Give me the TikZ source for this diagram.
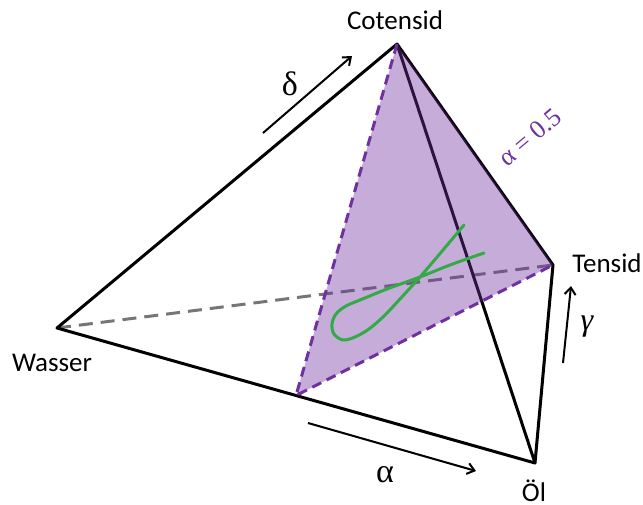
\documentclass[tikz,border=0pt]{standalone}
\usepackage{fontspec}
\setmainfont{Carlito}
\newfontfamily\greekfont{Liberation Serif}
\usetikzlibrary{arrows.meta,calc}
\definecolor{pplA}{RGB}{112,48,160}
\definecolor{grnA}{RGB}{50,170,70}
\definecolor{gryA}{RGB}{118,118,118}
\tikzset{
  edge/.style={line width=3pt, black},
  hidden/.style={line width=3pt, gryA, dash pattern=on 14pt off 8pt},
  pedge/.style={line width=3pt, pplA, dash pattern=on 10pt off 6pt},
  dirarrow/.style={line width=2pt, -{Straight Barb[length=7pt,width=11pt,line width=2pt]}},
  vlabel/.style={font=\fontsize{27}{31}\selectfont, inner sep=0pt, anchor=base},
  glabel/.style={font=\fontsize{34}{38}\selectfont\greekfont, inner sep=0pt}
}
\begin{document}
\begin{tikzpicture}[x=1pt,y=-1pt]
\useasboundingbox (0,0) rectangle (643,505);
\coordinate (C) at (397,44);
\coordinate (T) at (553,265);
\coordinate (W) at (57,328);
\coordinate (O) at (535,463);
\coordinate (P) at ($(W)!0.5!(O)$);
% hidden edge
\draw[hidden] (W) -- (T);
% solid edges
\draw[edge, line join=round] (W) -- (C) -- (T) -- (O) -- cycle;
\draw[edge] (C) -- (O);
% alpha = 0.5 plane
\fill[pplA, fill opacity=0.4] (C) -- (T) -- (P) -- cycle;
\draw[pedge] (C) -- (P) -- (T);
% green curve
\draw[grnA, line width=3pt, line cap=round] plot[smooth, tension=0.55] coordinates {
  (484,253) (450,265) (420,277) (387,289) (365,298) (346,306) (336,314) (332,324)
  (334,334) (343,340) (355,337) (369,329) (384,316) (400,299) (420,277) (443,250) (464,225)};
% labels
\node[vlabel] (lC) at (395,30) {Cotensid};
\node[vlabel] (lT) at (607,273) {Tensid};
\node[vlabel] (lW) at (52,371) {Wasser};
\node[vlabel] (lO) at (534,501) {Öl};
% direction arrows
\coordinate (d1) at (263,133);
\coordinate (d2) at (352,56);
\draw[dirarrow] (d1) -- (d2);
\coordinate (a1) at (308,423);
\coordinate (a2) at (476,471);
\draw[dirarrow] (a1) -- (a2);
\coordinate (g1) at (563,363);
\coordinate (g2) at (571,286);
\draw[dirarrow] (g1) -- (g2);
\node[glabel] (ld) at (290,84) {δ};
\node[glabel] (la) at (385,475) {α};
\node[font=\fontsize{32}{36}\selectfont\greekfont\itshape, inner sep=0pt] (lg) at (587,327) {γ};
\node[font=\fontsize{26}{30}\selectfont\greekfont, text=pplA, rotate=40, inner sep=0pt] (lalpha) at (530,137) {α = 0.5};
\end{tikzpicture}
\end{document}
